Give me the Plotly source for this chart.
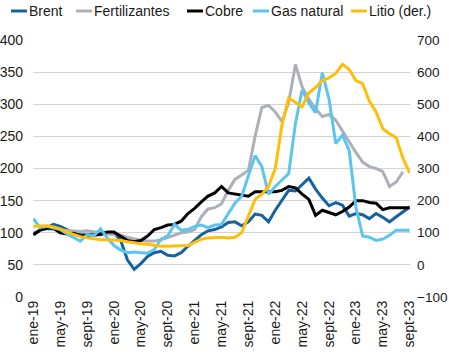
import plotly.graph_objects as go

meses = ["ene", "feb", "mar", "abr", "may", "jun", "jul", "ago", "sept", "oct", "nov", "dic"]
anios = ["19", "20", "21", "22", "23"]
categorias = [f"{m}-{a}" for a in anios for m in meses][:57]
tick_labels = categorias[::4]

brent = [97, 104, 108, 113, 110, 105, 100, 97, 97, 96, 97, 100,
         100, 88, 58, 43, 52, 63, 69, 71, 65, 64, 69, 79,
         88, 97, 103, 105, 109, 116, 117, 111, 117, 129, 127, 117,
         135, 150, 166, 165, 175, 185, 168, 154, 142, 147, 143, 126,
         130, 128, 122, 130, 124, 117, 125, 133, 140]

fertilizantes = [100, 104, 106, 105, 104, 103, 102, 102, 103, 102, 100, 98,
                 97, 96, 93, 90, 88, 87, 87, 89, 93, 97, 100, 101,
                 105, 125, 137, 139, 145, 166, 183, 190, 197, 250, 295, 298,
                 288, 273, 303, 362, 327, 308, 293, 281, 284, 275, 258, 240,
                 225, 210, 203, 200, 195, 172, 179, 195, None]

cobre = [97, 104, 107, 107, 100, 98, 99, 95, 96, 96, 98, 101,
         101, 95, 88, 86, 88, 95, 105, 108, 112, 113, 118, 130,
         138, 148, 157, 162, 172, 162, 160, 158, 157, 164, 164, 164,
         164, 166, 172, 170, 160, 152, 127, 135, 131, 128, 133, 140,
         150, 150, 147, 146, 136, 139, 139, 139, 139]

gas_natural = [122, 108, 110, 108, 105, 98, 92, 87, 97, 95, 106, 92,
               80, 73, 69, 70, 69, 68, 74, 90, 95, 113, 104, 105,
               110, 112, 108, 112, 113, 130, 146, 157, 190, 220, 203, 160,
               172, 182, 192, 270, 322, 302, 287, 349, 308, 239, 252, 228,
               140, 95, 93, 88, 90, 96, 104, 104, 104]

litio = [120, 122, 122, 118, 112, 102, 94, 88, 84, 80, 78, 78,
         78, 76, 72, 68, 66, 64, 60, 58, 58, 58, 58, 60,
         70, 80, 84, 86, 86, 84, 86, 100, 150, 204, 220, 244,
         300, 436, 520, 506, 492, 536, 552, 574, 582, 596, 624, 608,
         574, 564, 510, 476, 424, 408, 396, 332, 286]

series = [
    ("Brent", brent, "#16629F", "y"),
    ("Fertilizantes", fertilizantes, "#ACB0B8", "y"),
    ("Cobre", cobre, "#000000", "y"),
    ("Gas natural", gas_natural, "#5BC5F2", "y"),
    ("Litio (der.)", litio, "#FFBE0A", "y2"),
]

FONT = "Liberation Sans, Arial, sans-serif"
TXT = "#1a1a1a"
FS = 14

fig = go.Figure()
for name, vals, color, ax in series:
    fig.add_trace(go.Scatter(x=categorias, y=vals, name=name, mode="lines",
                             line=dict(color=color, width=3), yaxis=ax,
                             connectgaps=False, showlegend=False))

# manual legend with short line samples like the original
L = 33.0
W = 377.0
H = 257.0
leg_y = (297 - 11) / H
leg_items = [(11, "Brent"), (76, "Fertilizantes"), (187, "Cobre"), (253, "Gas natural"), (351, "Litio (der.)")]
shapes = []
annotations = []
for (px, label), (_, _, color, _) in zip(leg_items, series):
    shapes.append(dict(type="line", xref="paper", yref="paper",
                       x0=(px - L) / W, x1=(px + 16 - L) / W, y0=leg_y, y1=leg_y,
                       line=dict(color=color, width=3)))
    annotations.append(dict(xref="paper", yref="paper", x=(px + 18 - L) / W, y=leg_y,
                            text=label, showarrow=False, xanchor="left", yanchor="middle",
                            xshift=-2, font=dict(family=FONT, size=FS, color=TXT)))

fig.update_layout(
    width=449, height=354,
    margin=dict(l=33, r=39, t=40, b=57, autoexpand=False),
    paper_bgcolor="white", plot_bgcolor="white",
    font=dict(family=FONT, size=FS, color=TXT),
    showlegend=False,
    shapes=shapes, annotations=annotations,
    xaxis=dict(type="category", categoryorder="array", categoryarray=categorias,
               range=[-0.05, 56.05], tickmode="array", tickvals=tick_labels, ticktext=tick_labels,
               tickangle=-90, showgrid=False, showline=False, zeroline=False, ticks="",
               automargin=False, tickfont=dict(family=FONT, size=FS, color=TXT)),
    yaxis=dict(range=[0, 400], dtick=50, showgrid=True, gridcolor="#D3D3D3", gridwidth=1,
               zeroline=False, showline=False, ticks="", ticklabelstandoff=9, automargin=False,
               tickfont=dict(family=FONT, size=FS, color=TXT)),
    yaxis2=dict(range=[-100, 700], dtick=100, overlaying="y", side="right", showgrid=False,
                zeroline=False, showline=False, ticks="", ticklabelstandoff=6, automargin=False,
                tickfont=dict(family=FONT, size=13.5, color=TXT)),
)

fig.write_html("out.html")
